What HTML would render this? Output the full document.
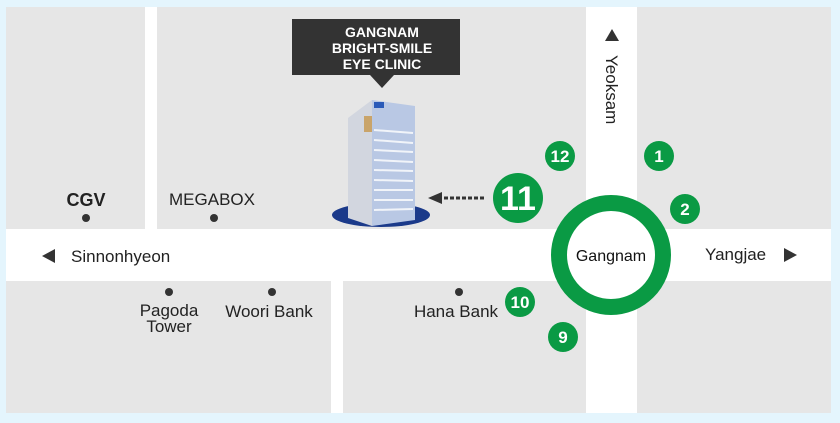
<!DOCTYPE html>
<html><head><meta charset="utf-8"><style>
html,body{margin:0;padding:0;background:#e4f5fd;}
svg{display:block;font-family:"Liberation Sans",sans-serif;}
</style></head><body>
<svg width="840" height="423" viewBox="0 0 840 423" xmlns="http://www.w3.org/2000/svg">
<rect width="840" height="423" fill="#e4f5fd"/>
<rect x="6" y="7" width="825" height="406" fill="#ffffff" rx="3"/>
<rect x="6" y="7" width="139" height="222" fill="#e6e6e6"/>
<rect x="157" y="7" width="429" height="222" fill="#e6e6e6"/>
<rect x="637" y="7" width="194" height="222" fill="#e6e6e6"/>
<rect x="6" y="281" width="325" height="132" fill="#e6e6e6"/>
<rect x="343" y="281" width="243" height="132" fill="#e6e6e6"/>
<rect x="637" y="281" width="194" height="132" fill="#e6e6e6"/>
<rect x="292" y="19" width="168" height="56" fill="#333"/>
<polygon points="370,75 394,75 382,88" fill="#333"/>
<g fill="#fff" font-weight="bold" font-size="14" text-anchor="middle">
<text x="382" y="37">GANGNAM</text>
<text x="382" y="53">BRIGHT-SMILE</text>
<text x="382" y="69">EYE CLINIC</text>
</g>
<ellipse cx="381" cy="215" rx="49" ry="12" fill="#1b3a8a"/>
<polygon points="348,118 372,100 372,226 348,218" fill="#d2d6df"/>
<polygon points="372,100 415,106 415,220 372,226" fill="#b9c8e4"/>
<g stroke="#fff" stroke-width="2" opacity="0.8">
<line x1="374" y1="130" x2="413" y2="133"/><line x1="374" y1="140" x2="413" y2="143"/>
<line x1="374" y1="150" x2="413" y2="152"/><line x1="374" y1="160" x2="413" y2="162"/>
<line x1="374" y1="170" x2="413" y2="171"/><line x1="374" y1="180" x2="413" y2="181"/>
<line x1="374" y1="190" x2="413" y2="190"/><line x1="374" y1="200" x2="413" y2="200"/>
<line x1="374" y1="210" x2="413" y2="209"/>
</g>
<rect x="364" y="116" width="8" height="16" fill="#c9a46a"/>
<rect x="374" y="102" width="10" height="6" fill="#2a5ab8"/>
<polygon points="428,198 442,192 442,204" fill="#333"/>
<line x1="444" y1="198" x2="486" y2="198" stroke="#333" stroke-width="3" stroke-dasharray="4,2"/>
<g fill="#333">
<circle cx="86" cy="218" r="4"/><circle cx="214" cy="218" r="4"/>
<circle cx="169" cy="292" r="4"/><circle cx="272" cy="292" r="4"/><circle cx="459" cy="292" r="4"/>
<polygon points="42,256 55,249 55,263"/>
<polygon points="797,255 784,248 784,262"/>
<polygon points="612,29 605,41 619,41"/>
</g>
<g fill="#222" font-size="17">
<text x="86" y="206" text-anchor="middle" font-weight="bold" font-size="18">CGV</text>
<text x="212" y="205" text-anchor="middle">MEGABOX</text>
<text x="71" y="262">Sinnonhyeon</text>
<text x="169" y="316" text-anchor="middle">Pagoda</text>
<text x="169" y="332" text-anchor="middle">Tower</text>
<text x="269" y="317" text-anchor="middle">Woori Bank</text>
<text x="456" y="317" text-anchor="middle">Hana Bank</text>
<text x="705" y="260">Yangjae</text>
<text transform="translate(606,55) rotate(90)">Yeoksam</text>
</g>
<circle cx="611" cy="255" r="52" fill="#fff" stroke="#0a9a44" stroke-width="16"/>
<text x="611" y="261" text-anchor="middle" font-size="16" fill="#111">Gangnam</text>
<g fill="#0a9a44">
<circle cx="560" cy="156" r="15"/><circle cx="659" cy="156" r="15"/>
<circle cx="685" cy="209" r="15"/><circle cx="518" cy="198" r="25"/>
<circle cx="520" cy="302" r="15"/><circle cx="563" cy="337" r="15"/>
</g>
<g fill="#fff" text-anchor="middle" font-size="17" font-weight="bold">
<text x="560" y="162">12</text><text x="659" y="162">1</text>
<text x="685" y="215">2</text><text x="518" y="210" font-size="34">11</text>
<text x="520" y="308">10</text><text x="563" y="343">9</text>
</g>
</svg>
</body></html>
